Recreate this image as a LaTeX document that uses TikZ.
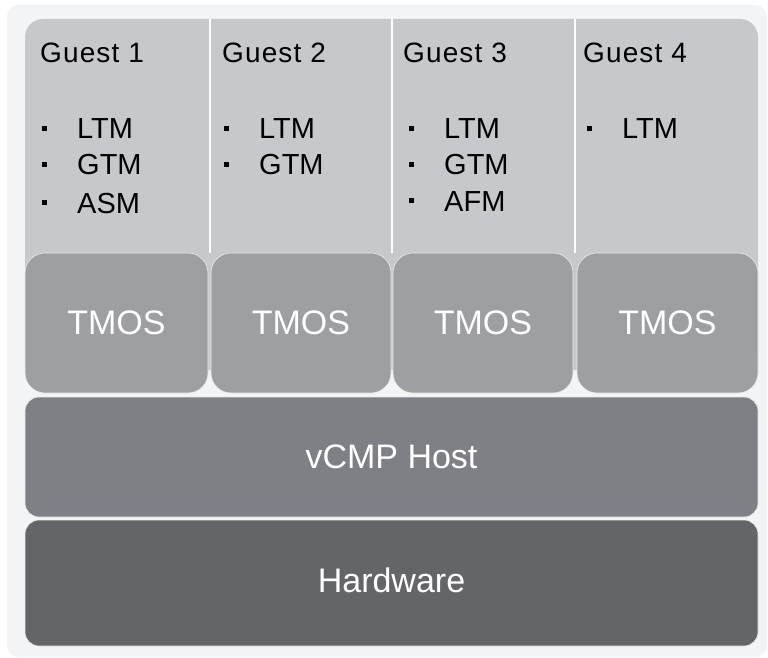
\documentclass[tikz,border=0pt]{standalone}
\usepackage{fontspec}
\setmainfont{Liberation Sans}
\definecolor{bgc}{HTML}{F3F4F6}
\definecolor{guestc}{HTML}{C7C8CC}
\definecolor{tmosc}{HTML}{9E9FA3}
\definecolor{hostc}{HTML}{7F8085}
\definecolor{hwc}{HTML}{646569}
\begin{document}
\begin{tikzpicture}[x=1pt,y=-1pt,
  tmosbox/.style={fill=tmosc,draw=white!85!gray,line width=0.6pt,rounded corners=20pt},
  layerbox/.style={draw=white!85!gray,line width=0.6pt,rounded corners=14pt},
  guesttitle/.style={anchor=base west,inner sep=0pt,font=\fontsize{28}{28}\selectfont\addfontfeature{LetterSpace=4},text=black},
  item/.style={anchor=base west,inner sep=0pt,font=\fontsize{29}{29}\selectfont,text=black},
  bigwhite/.style={inner sep=0pt,font=\fontsize{34}{34}\selectfont,text=white},
  divider/.style={draw=white,line width=1.4pt}]
\useasboundingbox (0,0) rectangle (768,658);
\fill[white] (0,0) rectangle (768,658);
\fill[bgc,rounded corners=12pt] (7,5) rectangle (767,657);
% guest panel
\fill[guestc,rounded corners=18pt] (25,19) rectangle (758,370);
\draw[divider] (210,19) -- (210,253);
\draw[divider] (392,19) -- (392,253);
\draw[divider] (575,19) -- (575,253);
% TMOS boxes
\path[tmosbox] (25,253) rectangle (208,393);
\path[tmosbox] (211,253) rectangle (391,393);
\path[tmosbox] (393,253) rectangle (573,393);
\path[tmosbox] (577,253) rectangle (758,393);
\node[bigwhite] (t1) at (116.5,323) {TMOS};
\node[bigwhite] (t2) at (301,323) {TMOS};
\node[bigwhite] (t3) at (483,323) {TMOS};
\node[bigwhite] (t4) at (667.5,323) {TMOS};
% layers
\path[layerbox,fill=hostc] (25,397) rectangle (758,517);
\path[layerbox,fill=hwc] (25,520) rectangle (758,646);
\node[bigwhite] (host) at (391.5,457) {vCMP Host};
\node[bigwhite] (hw) at (391.5,580) {Hardware};
% guest titles
\node[guesttitle] (g1) at (40,63) {Guest 1};
\node[guesttitle] (g2) at (222,63) {Guest 2};
\node[guesttitle] (g3) at (403,63) {Guest 3};
\node[guesttitle] (g4) at (583,63) {Guest 4};
% items
\newcommand{\bul}{\llap{\rule[8pt]{5pt}{5pt}\hspace{30pt}}}
\node[item] (g1a) at (77,139) {\bul LTM};
\node[item] (g1b) at (77,175) {\bul GTM};
\node[item] (g1c) at (77,213) {\bul ASM};
\node[item] (g2a) at (259,139) {\bul LTM};
\node[item] (g2b) at (259,175) {\bul GTM};
\node[item] (g3a) at (444,139) {\bul LTM};
\node[item] (g3b) at (444,175) {\bul GTM};
\node[item] (g3c) at (444,211) {\bul AFM};
\node[item] (g4a) at (622,139) {\bul LTM};
\end{tikzpicture}
\end{document}
